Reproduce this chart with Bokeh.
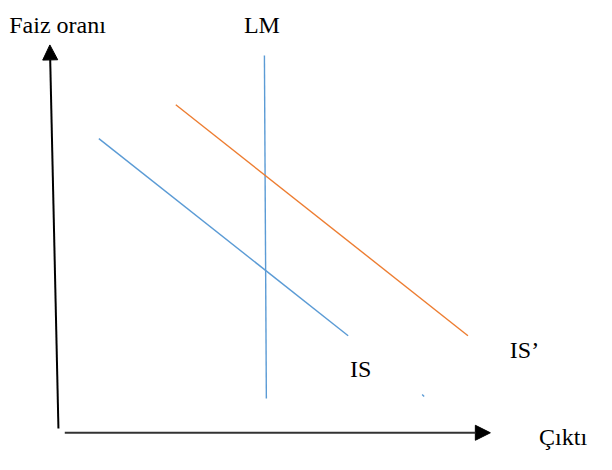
from bokeh.plotting import figure
from bokeh.models import Range1d, Arrow, NormalHead, ColumnDataSource
from bokeh.core.properties import value
from bokeh.embed import file_html
from bokeh.resources import INLINE

# Schematic IS-LM diagram (coordinates in reference-picture units)
lm_x = [271, 273]
lm_y = [57, 412]
is_x = [101, 357]
is_y = [143, 347]
is2_x = [180, 480]
is2_y = [108, 347]
dash_x = [433, 435]
dash_y = [408, 410]

yaxis_start = (59.5, 443)
yaxis_end = (50.7, 46)
xaxis_start = (66, 447.5)
xaxis_end = (503, 447.5)

label_text = ["Faiz oranı", "LM", "IS", "IS’", "Çıktı"]
label_x = [9, 250, 359, 523, 553]
label_y = [25, 25, 382, 362, 452]

BLUE = "#5B9BD5"
ORANGE = "#ED7D31"

p = figure(width=596, height=454, output_backend="svg", toolbar_location=None,
           x_range=Range1d(0, 612), y_range=Range1d(470, 0), min_border=0)
p.axis.visible = False
p.grid.visible = False
p.outline_line_color = None
p.background_fill_color = "white"
p.border_fill_color = "white"

p.line(lm_x, lm_y, line_color=BLUE, line_width=1.4)
p.line(is_x, is_y, line_color=BLUE, line_width=1.4)
p.line(is2_x, is2_y, line_color=ORANGE, line_width=1.4)
p.line(dash_x, dash_y, line_color=BLUE, line_width=1.4)

p.add_layout(Arrow(end=NormalHead(size=15, fill_color="black", line_color="black"),
                   x_start=yaxis_start[0], y_start=yaxis_start[1],
                   x_end=yaxis_end[0], y_end=yaxis_end[1],
                   line_color="black", line_width=2))
p.add_layout(Arrow(end=NormalHead(size=15, fill_color="black", line_color="black"),
                   x_start=xaxis_start[0], y_start=xaxis_start[1],
                   x_end=xaxis_end[0], y_end=xaxis_end[1],
                   line_color="#333333", line_width=2))

src = ColumnDataSource(dict(x=label_x, y=label_y, t=label_text))
p.text(x="x", y="y", text="t", source=src, text_font=value("Liberation Serif"),
       text_font_size="24px", text_baseline="alphabetic", text_align="left",
       text_color="black")

open("out.html", "w").write(file_html(p, INLINE))
